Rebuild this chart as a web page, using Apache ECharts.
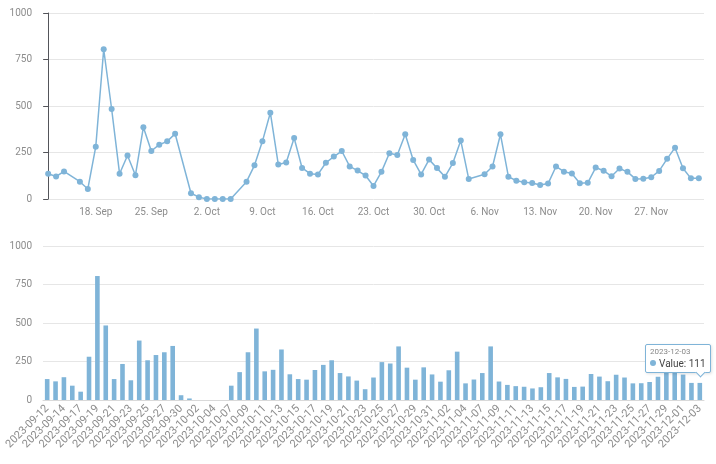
<!DOCTYPE html>
<html>
<head>
<meta charset="utf-8">
<script src="https://cdn.jsdelivr.net/npm/echarts@6/dist/echarts.min.js"></script>
<style>
html,body{margin:0;padding:0;background:#fff;}
#chart{width:716px;height:464px;}
</style>
</head>
<body>
<div id="chart"></div>
<script>
// ---- data ----
const dates = [
 '2023-09-12','2023-09-13','2023-09-14','2023-09-16','2023-09-17','2023-09-18','2023-09-19','2023-09-20','2023-09-21','2023-09-22',
 '2023-09-23','2023-09-24','2023-09-25','2023-09-26','2023-09-27','2023-09-28','2023-09-30','2023-10-01','2023-10-02','2023-10-03',
 '2023-10-04','2023-10-05','2023-10-07','2023-10-08','2023-10-09','2023-10-10','2023-10-11','2023-10-12','2023-10-13','2023-10-14',
 '2023-10-15','2023-10-16','2023-10-17','2023-10-18','2023-10-19','2023-10-20','2023-10-21','2023-10-22','2023-10-23','2023-10-24',
 '2023-10-25','2023-10-26','2023-10-27','2023-10-28','2023-10-29','2023-10-30','2023-10-31','2023-11-01','2023-11-02','2023-11-03',
 '2023-11-04','2023-11-06','2023-11-07','2023-11-08','2023-11-09','2023-11-10','2023-11-11','2023-11-12','2023-11-13','2023-11-14',
 '2023-11-15','2023-11-16','2023-11-17','2023-11-18','2023-11-19','2023-11-20','2023-11-21','2023-11-22','2023-11-23','2023-11-24',
 '2023-11-25','2023-11-26','2023-11-27','2023-11-28','2023-11-29','2023-11-30','2023-12-01','2023-12-02','2023-12-03'
];
const values = [
 136,121,148,93,54,281,805,484,136,234,
 128,386,258,292,310,351,31,10,0,0,
 0,0,93,181,310,464,186,196,328,167,
 136,132,195,228,258,175,153,126,70,146,
 246,237,348,210,132,212,166,119,193,314,
 108,133,175,348,120,98,90,86,75,83,
 175,147,137,85,87,169,152,122,164,146,
 108,109,117,151,216,276,165,111,111
];
const yTicks = [0, 250, 500, 750, 1000];
const topTickDates = ['2023-09-18','2023-09-25','2023-10-02','2023-10-09','2023-10-16','2023-10-23','2023-10-30','2023-11-06','2023-11-13','2023-11-20','2023-11-27'];
const monthNames = ['Jan','Feb','Mar','Apr','May','Jun','Jul','Aug','Sep','Oct','Nov','Dec'];
const seriesName = 'Value';
const tooltipIndex = 78;

// ---- helpers ----
const DAY = 86400000;
function toTime(s){ const p = s.split('-').map(Number); return Date.UTC(p[0], p[1]-1, p[2]); }
const base = toTime(dates[0]);
function toDay(s){ return Math.round((toTime(s) - base) / DAY); }
const lineData = dates.map((d,i) => [toDay(d), values[i]]);

const COLOR = '#7fb4d8';
const LABEL = '#8c8c8c';
const SPLIT = '#e6e6e6';
const FONT = 'Roboto';

const yAxisCommon = {
  type: 'value', min: yTicks[0], max: yTicks[yTicks.length-1], interval: yTicks[1]-yTicks[0],
  axisLabel: { color: LABEL, fontSize: 10, margin: 11, formatter: v => String(v) },
  splitLine: { lineStyle: { color: SPLIT } }
};

const chart = echarts.init(document.getElementById('chart'));
const option = {
  animation: false,
  textStyle: { fontFamily: FONT },
  grid: [
    { left: 43, right: 12, top: 13, height: 186 },
    { left: 43, right: 12, top: 246, height: 154 }
  ],
  xAxis: [
    {
      type: 'value', gridIndex: 0,
      min: e => e.min - 0.65,
      max: e => e.max + 0.65,
      axisLine: { show: false },
      axisTick: { show: false },
      splitLine: { show: false },
      axisLabel: {
        color: LABEL, fontSize: 10, margin: 8,
        customValues: topTickDates.map(toDay),
        formatter: v => { const d = new Date(base + Math.round(v) * DAY); return d.getUTCDate() + '. ' + monthNames[d.getUTCMonth()]; }
      }
    },
    {
      type: 'category', gridIndex: 1, data: dates,
      axisLine: { lineStyle: { color: '#d9d9d9' } },
      axisTick: { alignWithLabel: true, interval: 1, length: 5, lineStyle: { color: '#d9d9d9' } },
      axisLabel: { color: LABEL, fontSize: 11, rotate: 45, interval: 1, margin: 7 }
    }
  ],
  yAxis: [
    Object.assign({ gridIndex: 0 }, yAxisCommon),
    Object.assign({ gridIndex: 1 }, yAxisCommon)
  ],
  tooltip: {
    trigger: 'item',
    triggerOn: 'none',
    alwaysShowContent: true,
    transitionDuration: 0,
    backgroundColor: '#fff',
    borderColor: COLOR,
    borderWidth: 1,
    padding: [2, 4],
    extraCssText: 'box-shadow:1px 1px 3px rgba(0,0,0,0.12);border-radius:2px;',
    formatter: p => '<div style="font-size:8px;line-height:10px;color:#888;">' + p.name + '</div>' +
      '<div style="font-size:10px;line-height:13px;color:#444;"><span style="display:inline-block;width:6px;height:6px;border-radius:3px;background:' + COLOR + ';margin-right:3px;vertical-align:1px;"></span>' + seriesName + ': ' + p.value + '</div>' +
      '<div style="position:absolute;right:6px;bottom:-4px;width:6px;height:6px;background:#fff;border-right:1px solid ' + COLOR + ';border-bottom:1px solid ' + COLOR + ';transform:rotate(45deg);"></div>',
    position: (point, params, dom, rect, size) => {
      const w = size.contentSize[0], h = size.contentSize[1];
      const cx = rect ? rect.x + rect.width / 2 : point[0];
      const top = rect ? rect.y : point[1];
      return [Math.min(cx - w / 2, size.viewSize[0] - w - 5), top - h - 10];
    }
  },
  series: [
    {
      type: 'line', name: seriesName, xAxisIndex: 0, yAxisIndex: 0,
      data: lineData,
      symbol: 'circle', symbolSize: 6,
      itemStyle: { color: COLOR },
      lineStyle: { color: COLOR, width: 1.5 }
    },
    {
      type: 'bar', name: seriesName, xAxisIndex: 1, yAxisIndex: 1,
      data: values,
      barWidth: '55%',
      itemStyle: { color: COLOR }
    }
  ]
};
chart.setOption(option);
function showTip(){ chart.dispatchAction({ type: 'showTip', seriesIndex: 1, dataIndex: tooltipIndex }); }
showTip();
setTimeout(showTip, 50);
</script>
</body>
</html>
